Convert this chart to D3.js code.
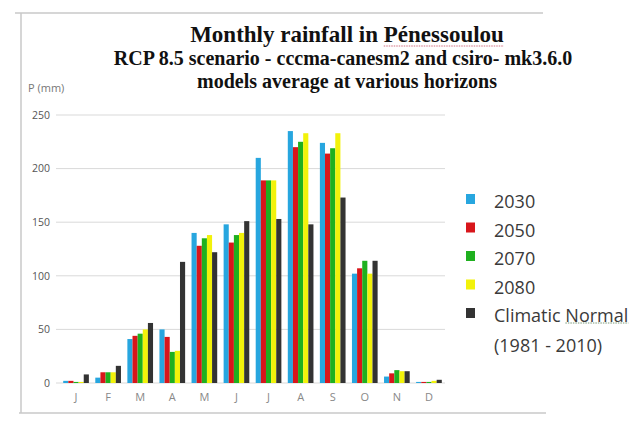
<!DOCTYPE html>
<html>
  <head>
    <script src="https://d3js.org/d3.v7.min.js"></script>
    <style>
      body { margin: 0; background-color: white; }
    </style>
  </head>
  <body>
    <svg id="canvas" width="633" height="423"></svg>
    <script>
      const months = ['J', 'F', 'M', 'A', 'M', 'J', 'J', 'A', 'S', 'O', 'N', 'D']
      const seriesNames = ['2030', '2050', '2070', '2080', 'Climatic Normal']
      const v2030 = [2, 5, 41, 50, 140, 148, 210, 235, 224, 102, 6, 1]
      const v2050 = [2, 10, 44, 43, 128, 131, 189, 220, 214, 107, 9, 1]
      const v2070 = [1, 10, 46, 29, 135, 138, 189, 225, 219, 114, 12, 1]
      const v2080 = [1, 10, 50, 30, 138, 140, 189, 233, 233, 102, 11, 2]
      const vNormal = [8, 16, 56, 113, 122, 151, 153, 148, 173, 114, 11, 3]
      const yTicks = [0, 50, 100, 150, 200, 250]

      const allSeries = [v2030, v2050, v2070, v2080, vNormal]
      const colors = ['#27a6df', '#d8161b', '#1fb01f', '#f2f20a', '#333333']
      const sans = '"Open Sans", sans-serif'
      const serif = '"Liberation Serif", "Times New Roman", serif'

      let svg = d3.select('#canvas')

      // partial frame of the pasted chart
      const frame = svg.append('g').attr('stroke', '#c8c8c8').attr('stroke-width', 1.5)
      frame.append('line').attr('x1', 15).attr('x2', 543).attr('y1', 13).attr('y2', 13)
      frame.append('line').attr('x1', 21).attr('x2', 21).attr('y1', 13).attr('y2', 413)
      frame.append('line').attr('x1', 19).attr('x2', 546).attr('y1', 413).attr('y2', 413)

      let x = d3.scaleBand().domain(d3.range(12)).range([60, 445]).paddingInner(0.2).paddingOuter(0.1)
      let xs = d3.scaleBand().domain(d3.range(5)).range([0, x.bandwidth()])
      let y = d3.scaleLinear().domain([0, 250]).range([383, 115])

      // gridlines
      svg.append('g').selectAll('line').data(yTicks)
        .enter().append('line')
          .attr('x1', 56).attr('x2', 445)
          .attr('y1', d => y(d)).attr('y2', d => y(d))
          .attr('stroke', '#d9d9d9').attr('stroke-width', 1)

      let yAxis = svg.append('g').attr('transform', 'translate(54,0)')
        .call(d3.axisLeft(y).tickValues(yTicks).tickSize(0).tickPadding(4))
      yAxis.select('.domain').remove()
      yAxis.selectAll('text').attr('font-family', sans)
        .attr('font-size', 10.5).attr('fill', '#555')

      let xAxis = svg.append('g').attr('transform', `translate(0,${y(0)})`)
        .call(d3.axisBottom(x).tickFormat(i => months[i]).tickSize(0).tickPadding(10))
      xAxis.select('.domain').remove()
      xAxis.selectAll('text').attr('font-family', sans)
        .attr('font-size', 11).attr('fill', '#888')

      // bars
      allSeries.forEach((vals, s) => {
        svg.append('g').selectAll('rect').data(vals)
          .enter().append('rect')
            .attr('x', (d, i) => x(i) + xs(s))
            .attr('width', xs.bandwidth())
            .attr('y', d => y(d))
            .attr('height', d => y(0) - y(d))
            .attr('fill', colors[s])
      })

      // titles
      const titleText = 'Monthly rainfall in Pénessoulou'
      let title = svg.append('text').attr('x', 347).attr('y', 42).attr('text-anchor', 'middle')
        .attr('font-family', serif).attr('font-weight', 'bold').attr('font-size', 23).attr('fill', '#111')
        .text(titleText)
      svg.append('text').attr('x', 343).attr('y', 65).attr('text-anchor', 'middle')
        .attr('font-family', serif).attr('font-weight', 'bold').attr('font-size', 20).attr('fill', '#111')
        .text('RCP 8.5 scenario - cccma-canesm2 and csiro- mk3.6.0')
      svg.append('text').attr('x', 347).attr('y', 88).attr('text-anchor', 'middle')
        .attr('font-family', serif).attr('font-weight', 'bold').attr('font-size', 20).attr('fill', '#111')
        .text('models average at various horizons')
      svg.append('text').attr('x', 28).attr('y', 92)
        .attr('font-family', sans).attr('font-size', 11).attr('fill', '#777')
        .text('P (mm)')

      // spell-check underline under the place name
      const tNode = title.node()
      const idx = titleText.indexOf('Pénessoulou')
      const tStart = 347 - tNode.getComputedTextLength() / 2
      const u0 = tStart + tNode.getSubStringLength(0, idx)
      const u1 = tStart + tNode.getComputedTextLength()
      svg.append('line').attr('x1', u0).attr('x2', u1).attr('y1', 46).attr('y2', 46)
        .attr('stroke', '#d07080').attr('stroke-width', 1.2).attr('stroke-dasharray', '1.5,1')

      // legend
      let legend = svg.append('g').selectAll('g').data(seriesNames)
        .enter().append('g')
          .attr('transform', (d, i) => `translate(466,${208 + i * 28.5})`)
      legend.append('rect').attr('x', 0).attr('y', -14).attr('width', 9).attr('height', 10)
        .attr('fill', (d, i) => colors[i])
      let legText = legend.append('text').attr('x', 28).attr('y', 0)
        .attr('font-family', sans).attr('font-size', 18).attr('fill', '#3a3a3a')
        .text(d => d)
      svg.append('text').attr('x', 494).attr('y', 352)
        .attr('font-family', sans).attr('font-size', 18).attr('fill', '#3a3a3a')
        .text('(1981 - 2010)')

      // dotted underline under "Normal"
      const lastNode = legText.nodes()[4]
      const nIdx = seriesNames[4].indexOf('Normal')
      const n0 = 494 + lastNode.getSubStringLength(0, nIdx)
      svg.append('line').attr('x1', n0).attr('x2', n0 + lastNode.getSubStringLength(nIdx, 6))
        .attr('y1', 323).attr('y2', 323)
        .attr('stroke', '#7a9a7a').attr('stroke-width', 1).attr('stroke-dasharray', '1.5,1')
    </script>
  </body>
</html>
